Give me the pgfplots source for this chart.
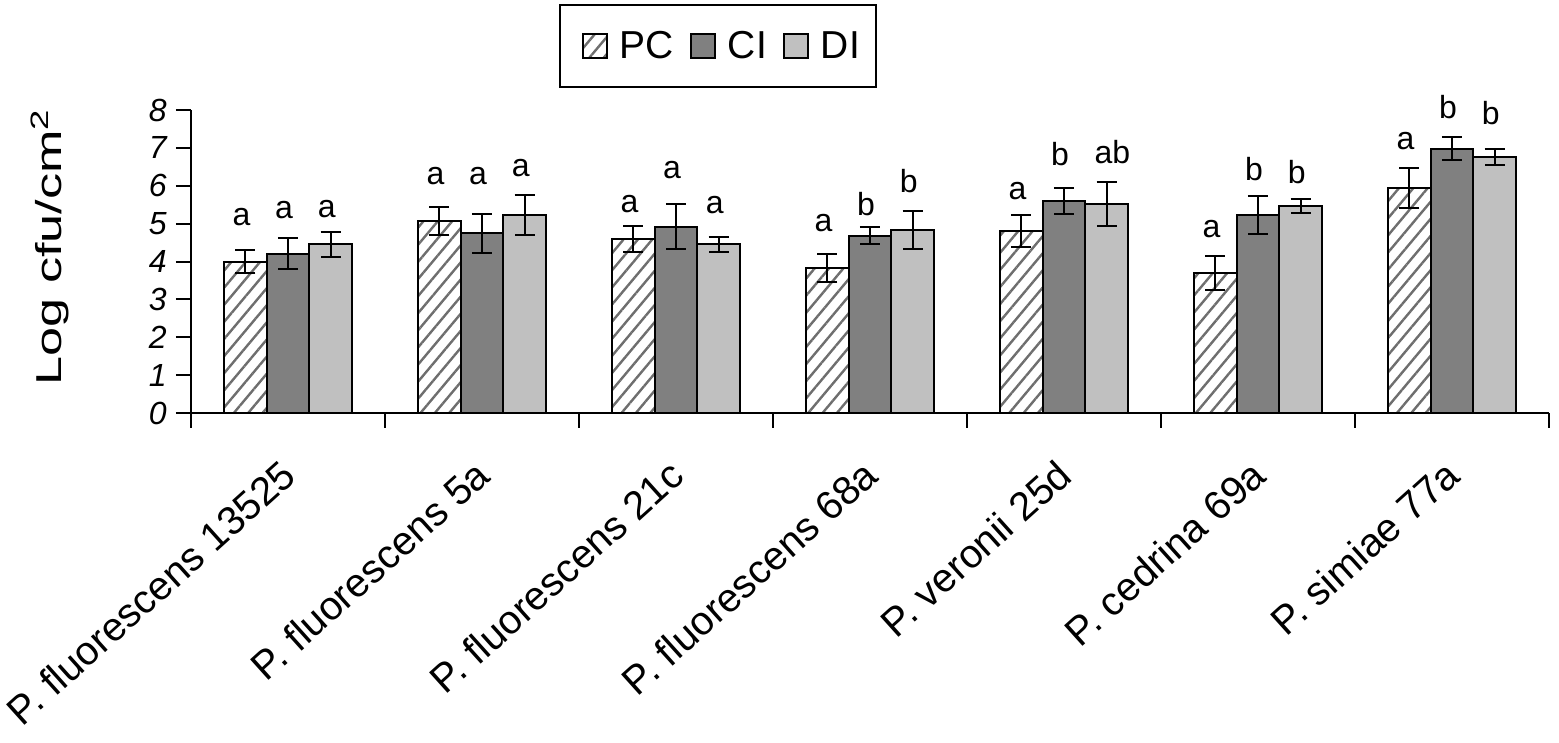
\documentclass[border=0pt]{standalone}
\usepackage{fontspec}
\setmainfont{Liberation Sans}
\usepackage{pgfplots}
\pgfplotsset{compat=1.18}
\usetikzlibrary{patterns.meta}
\definecolor{cigray}{RGB}{128,128,128}
\definecolor{digray}{RGB}{192,192,192}
\definecolor{hatch}{RGB}{110,110,110}
\begin{document}
\begin{tikzpicture}
\useasboundingbox (-95.5pt,-165pt) rectangle (684pt,206.5pt);
\begin{axis}[
  at={(0pt,0pt)}, anchor=south west,
  scale only axis, width=679pt, height=151.5pt,
  xmin=-0.5, xmax=6.5, ymin=0, ymax=8,
  axis lines*=left,
  axis line style={line width=1pt, black},
  clip=false,
  tick align=outside,
  ytick={0,...,8},
  major tick length=7.5pt,
  every tick/.style={black, line width=1pt},
  xtick={-0.5,0.5,...,6.5}, xticklabels={},
  extra x ticks={0,...,6},
  extra x tick labels={P. fluorescens 13525, P. fluorescens 5a, P. fluorescens 21c, P. fluorescens 68a, P. veronii 25d, P. cedrina 69a, P. simiae 77a},
  extra x tick style={tick style={draw=none},
    xticklabel style={xshift=-4.5pt, yshift=-14.5pt, rotate=42, anchor=north east, inner sep=0pt, font=\fontsize{20}{20}\selectfont}},
  yticklabel style={inner sep=0pt, xshift=-4.5pt, font=\fontsize{16}{16}\selectfont\itshape},
  /pgf/number format/assume math mode=true,
  ylabel={Log cfu/cm\textsuperscript{2}},
  ylabel style={at={(axis description cs:-0.1038,0.548)}, anchor=center, font=\fontsize{18}{18}\selectfont, xscale=1.45},
  legend style={at={(0.388,1.211)}, anchor=center, draw=black, line width=1pt,
    font=\fontsize{19.5}{20}\selectfont, inner xsep=8pt, inner ysep=11pt,
    nodes={inner xsep=0pt, inner ysep=2pt},
    /tikz/every even column/.append style={column sep=5pt}},
  legend columns=-1,
  legend image code/.code={\path (-3pt,0pt) (18pt,0pt); \draw[#1, line width=1pt] (0pt,-6pt) rectangle (12pt,6pt);},
  error bars/error bar style={line width=1pt, black},
  error bars/error mark options={rotate=90, mark size=5pt, line width=1pt, black},
]
% PC bars (category i at x = i - 0.22)
\addplot[ybar, bar width=0.22, bar shift=0, draw=black, line width=1pt,
  pattern={Lines[angle=50,distance=5.5pt,line width=1.2pt]}, pattern color=hatch,
  error bars/.cd, y dir=both, y explicit]
  coordinates {(-0.22,4.00) +- (0,0.30) (0.78,5.07) +- (0,0.38) (1.78,4.59) +- (0,0.35)
               (2.78,3.83) +- (0,0.38) (3.78,4.81) +- (0,0.42) (4.78,3.69) +- (0,0.45)
               (5.78,5.93) +- (0,0.53)};
% CI bars (category i at x = i)
\addplot[ybar, bar width=0.22, bar shift=0, draw=black, line width=1pt, fill=cigray,
  error bars/.cd, y dir=both, y explicit]
  coordinates {(0,4.21) +- (0,0.40) (1,4.74) +- (0,0.52) (2,4.92) +- (0,0.60)
               (3,4.68) +- (0,0.23) (4,5.60) +- (0,0.34) (5,5.22) +- (0,0.50)
               (6,6.98) +- (0,0.30)};
% DI bars (category i at x = i + 0.22)
\addplot[ybar, bar width=0.22, bar shift=0, draw=black, line width=1pt, fill=digray,
  error bars/.cd, y dir=both, y explicit]
  coordinates {(0.22,4.46) +- (0,0.33) (1.22,5.22) +- (0,0.53) (2.22,4.45) +- (0,0.20)
               (3.22,4.83) +- (0,0.50) (4.22,5.51) +- (0,0.58) (5.22,5.46) +- (0,0.18)
               (6.22,6.76) +- (0,0.22)};
\legend{PC,CI,DI}
\addplot[forget plot, draw=none, mark=none, nodes near coords, point meta=explicit symbolic,
  nodes near coords align=center,
  every node near coord/.append style={font=\fontsize{16}{16}\selectfont, inner sep=0pt, black}]
  coordinates {(-0.24,5.18) [a] (0.76,6.25) [a] (1.76,5.53) [a] (2.76,5.02) [a]
               (3.76,5.87) [a] (4.76,4.85) [a] (5.76,7.19) [a]
               (-0.02,5.36) [a] (0.98,6.25) [a] (1.98,6.41) [a] (2.98,5.51) [b]
               (3.98,6.83) [b] (4.98,6.43) [b] (5.98,8.07) [b]
               (0.20,5.38) [a] (1.20,6.46) [a] (2.20,5.49) [a] (3.20,6.13) [b]
               (4.25,6.89) [ab] (5.20,6.37) [b] (6.20,7.91) [b]};
\end{axis}
\end{tikzpicture}
\end{document}
